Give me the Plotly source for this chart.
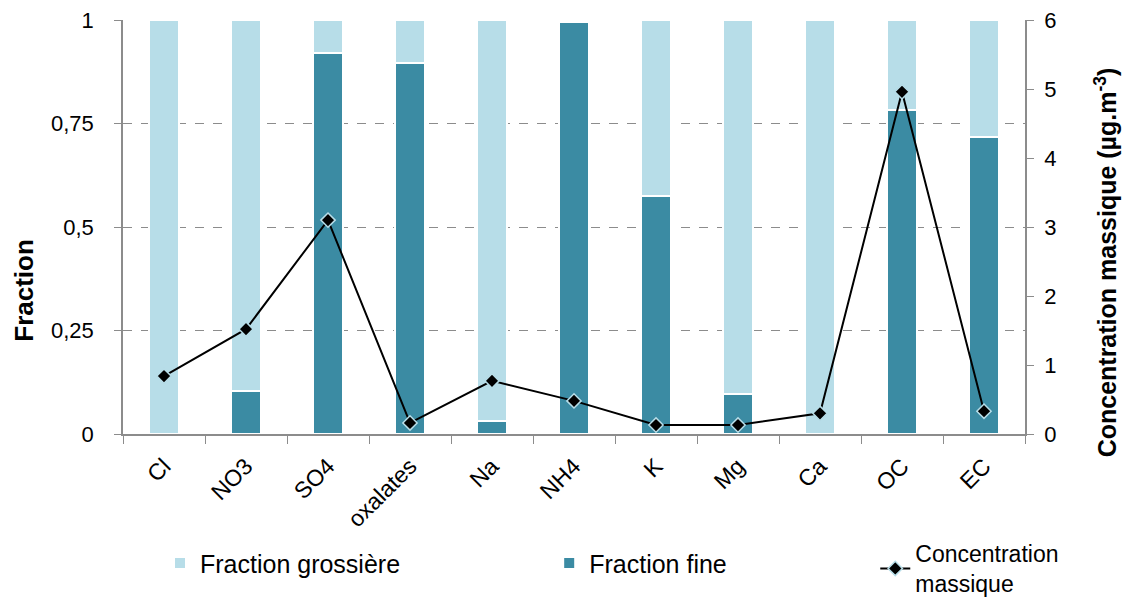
import plotly.graph_objects as go

categories = ["Cl", "NO3", "SO4", "oxalates", "Na", "NH4", "K", "Mg", "Ca", "OC", "EC"]
fraction_fine = [0.0, 0.104, 0.92, 0.896, 0.031, 0.995, 0.575, 0.097, 0.0, 0.783, 0.717]
fraction_grossiere = [round(1 - v, 3) for v in fraction_fine]
concentration = [0.84, 1.52, 3.10, 0.16, 0.77, 0.48, 0.13, 0.13, 0.30, 4.96, 0.33]

LIGHT = "#B7DDE8"
DARK = "#3B8BA3"
FONT = "Liberation Sans, Arial, sans-serif"

fig = go.Figure()
fig.add_trace(go.Bar(
    x=categories, y=fraction_fine, name="Fraction fine",
    marker=dict(color=DARK, line=dict(color="white", width=2)),
    width=0.37, legend="legend2",
))
fig.add_trace(go.Bar(
    x=categories, y=fraction_grossiere, name="Fraction grossière",
    marker=dict(color=LIGHT, line=dict(color="white", width=2)),
    width=0.37, legend="legend",
))
fig.add_trace(go.Scatter(
    x=categories, y=concentration, name="Concentration<br>massique",
    yaxis="y2", mode="lines+markers",
    line=dict(color="black", width=2),
    marker=dict(symbol="diamond", size=11, color="black", line=dict(color=LIGHT, width=1.5)),
    legend="legend3",
))

axis_col = "#8C8C8C"
leg_common = dict(xref="paper", yref="paper", xanchor="left", yanchor="middle",
                  bgcolor="rgba(0,0,0,0)", visible=True)
fig.update_layout(
    showlegend=True,
    barmode="stack",
    width=1118, height=595,
    margin=dict(l=115, r=101, t=12, b=169, autoexpand=False),
    plot_bgcolor="white", paper_bgcolor="white",
    font=dict(family=FONT, size=22, color="black"),
    xaxis=dict(
        type="category", range=[-0.5, 10.5], tickangle=-45, tickson="boundaries",
        ticks="outside", ticklen=8, tickcolor=axis_col,
        showline=True, linecolor=axis_col, linewidth=1.5,
        showgrid=False, automargin=False, ticklabelstandoff=8,
        tickfont=dict(size=23),
    ),
    yaxis=dict(
        range=[0, 1], tickvals=[0, 0.25, 0.5, 0.75, 1],
        ticktext=["0", "0,25", "0,5", "0,75", "1"],
        ticks="outside", ticklen=7, tickcolor=axis_col,
        showline=True, linecolor=axis_col, linewidth=1.5,
        showgrid=True, gridcolor="#8C8C8C", griddash="dash", gridwidth=1,
        zeroline=False, automargin=False, ticklabelstandoff=16,
        ticklabeloverflow="allow",
    ),
    yaxis2=dict(
        overlaying="y", side="right", range=[0, 6], dtick=1,
        ticks="outside", ticklen=7, tickcolor=axis_col,
        showline=True, linecolor=axis_col, linewidth=1.5,
        showgrid=False, zeroline=False, automargin=False, ticklabelstandoff=6,
        ticklabeloverflow="allow",
    ),
    legend=dict(x=0.041, y=-0.312, font=dict(size=25), **leg_common),
    legend2=dict(x=0.4725, y=-0.312, font=dict(size=25), **leg_common),
    legend3=dict(x=0.834, y=-0.325, font=dict(size=23), **leg_common),
    annotations=[
        dict(text="<b>Fraction</b>", xref="paper", yref="paper", x=-0.11, y=0.348,
             textangle=-90, showarrow=False, xanchor="center", yanchor="middle",
             font=dict(size=26)),
        dict(text="<b>Concentration massique (µg.m<sup>-3</sup>)</b>", xref="paper", yref="paper",
             x=1.09, y=0.415, textangle=-90, showarrow=False, xanchor="center", yanchor="middle",
             font=dict(size=25)),
    ],
)

fig.write_html("out.html")
